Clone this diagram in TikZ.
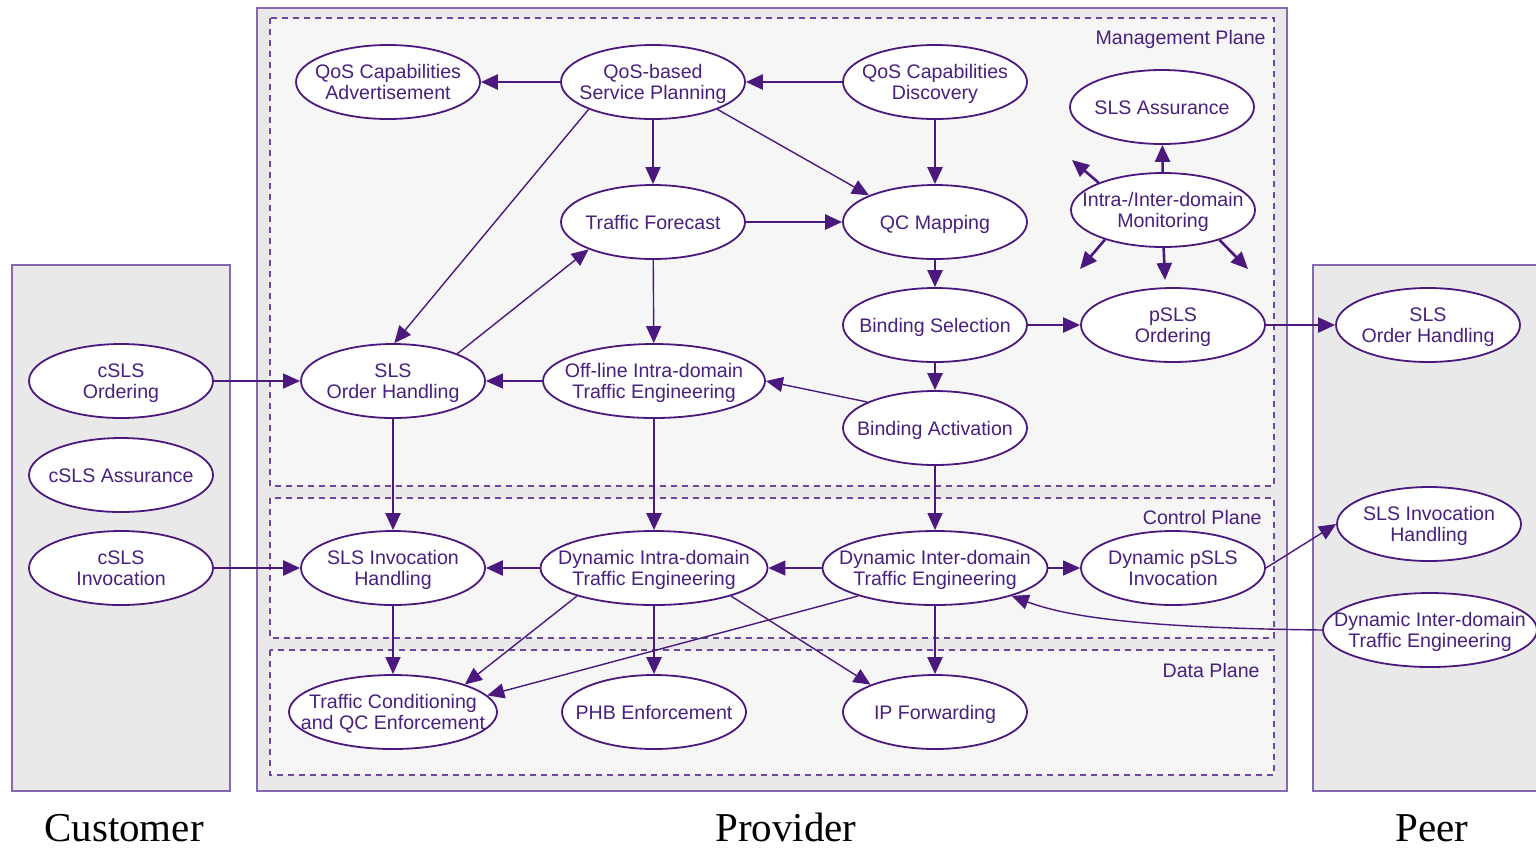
\documentclass[tikz,border=0pt]{standalone}
\usepackage{fontspec}
\setmainfont{Liberation Sans}
\newfontfamily\labelserif{Liberation Serif}
\usetikzlibrary{shapes.geometric,arrows.meta}
\definecolor{lc}{RGB}{75,25,125}
\definecolor{tc}{RGB}{72,32,125}
\definecolor{boxb}{RGB}{135,105,175}
\definecolor{dashc}{RGB}{110,70,160}
\definecolor{outerfill}{RGB}{233,233,233}
\definecolor{planefill}{RGB}{246,246,246}
\newcommand{\ztext}[1]{\makebox[0pt][c]{\raisebox{-4pt}[0pt][0pt]{\begin{tabular}{@{}c@{}}#1\end{tabular}}}}
\tikzset{
  proc/.style={ellipse, draw=lc, line width=0.9pt, fill=white, minimum width=92pt,
    minimum height=37pt, inner sep=0pt, text=tc,
    font=\fontsize{9.8}{10.3}\selectfont},
  thk/.style={draw=lc, line width=1.3pt, -{Triangle[length=8.5pt,width=7.5pt]}},
  thn/.style={draw=lc, line width=0.7pt, -{Triangle[length=8.5pt,width=7.5pt]}},
  outerbox/.style={draw=boxb, line width=1pt, fill=outerfill},
  plane/.style={draw=dashc, line width=0.8pt, dash pattern=on 3pt off 2.5pt, fill=planefill},
  planelabel/.style={anchor=east, text=tc, font=\fontsize{9.8}{10.3}\selectfont, inner sep=0pt},
  bottomlabel/.style={anchor=base, font=\labelserif\fontsize{20.5}{22}\selectfont, inner sep=0pt}
}
\begin{document}
\begin{tikzpicture}[x=0.5pt,y=-0.5pt]
\useasboundingbox (0,0) rectangle (1536,848);
\begin{scope}
\clip (0,0) rectangle (1536,848);
% outer boxes
\draw[outerbox] (257,8) rectangle (1287,791);
\draw[outerbox] (12,265) rectangle (230,791);
\draw[outerbox] (1313,265) rectangle (1545,791);
% planes
\draw[plane] (270,18) rectangle (1274,486);
\draw[plane] (270,498) rectangle (1274,638);
\draw[plane] (270,650) rectangle (1274,775);
\end{scope}
\node[planelabel] (mpl) at (1266,39) {Management Plane};
\node[planelabel] (cpl) at (1262,517) {Control Plane};
\node[planelabel] (dpl) at (1260,670) {Data Plane};

% management plane nodes
\node[proc] (qca) at (388,82) {\ztext{QoS Capabilities\\Advertisement}};
\node[proc] (qsp) at (653,82) {\ztext{QoS-based\\Service Planning}};
\node[proc] (qcd) at (935,82) {\ztext{QoS Capabilities\\Discovery}};
\node[proc] (sla) at (1162,107) {\ztext{SLS Assurance}};
\node[proc] (mon) at (1163,210) {\ztext{Intra-/Inter-domain\\Monitoring}};
\node[proc] (tf) at (653,222) {\ztext{Traffic Forecast}};
\node[proc] (qcm) at (935,222) {\ztext{QC Mapping}};
\node[proc] (bs) at (935,325) {\ztext{Binding Selection}};
\node[proc] (pso) at (1173,325) {\ztext{pSLS\\Ordering}};
\node[proc] (soh) at (393,381) {\ztext{SLS\\Order Handling}};
\node[proc, minimum width=111pt] (ote) at (654,381) {\ztext{Off-line Intra-domain\\Traffic Engineering}};
\node[proc] (ba) at (935,428) {\ztext{Binding Activation}};

% customer
\node[proc] (cso) at (121,381) {\ztext{cSLS\\Ordering}};
\node[proc] (csa) at (121,475) {\ztext{cSLS Assurance}};
\node[proc] (csi) at (121,568) {\ztext{cSLS\\Invocation}};

% control plane
\node[proc] (sih) at (393,568) {\ztext{SLS Invocation\\Handling}};
\node[proc, minimum width=113.5pt] (dite) at (654,568) {\ztext{Dynamic Intra-domain\\Traffic Engineering}};
\node[proc, minimum width=112.5pt] (dete) at (935,568) {\ztext{Dynamic Inter-domain\\Traffic Engineering}};
\node[proc] (dpi) at (1173,568) {\ztext{Dynamic pSLS\\Invocation}};

% data plane
\node[proc, minimum width=104pt] (tc) at (393,712) {\ztext{Traffic Conditioning\\and QC Enforcement}};
\node[proc] (phb) at (654,712) {\ztext{PHB Enforcement}};
\node[proc] (ipf) at (935,712) {\ztext{IP Forwarding}};

% peer
\node[proc] (psoh) at (1428,325) {\ztext{SLS\\Order Handling}};
\node[proc] (psih) at (1429,524) {\ztext{SLS Invocation\\Handling}};
\node[proc, minimum width=107pt] (pdete) at (1430,630) {\ztext{Dynamic Inter-domain\\Traffic Engineering}};

% monitoring free ends
\coordinate (m1) at (1072,160);
\coordinate (m2) at (1080,269);
\coordinate (m3) at (1165,280);
\coordinate (m4) at (1248,269);

% connectors - management plane
\draw[thk] (qsp) -- (qca);
\draw[thk] (qcd) -- (qsp);
\draw[thn] (qsp) -- (tf);
\draw[thn] (qsp.337) -- (qcm.158);
\draw[thn] (qsp.203) -- (soh.88);
\draw[thk] (qcd) -- (qcm);
\draw[thk] (tf) -- (qcm);
\draw[thn] (soh.23) -- (tf.203);
\draw[thn] (tf) -- (ote);
\draw[thk] (qcm) -- (bs);
\draw[thk] (bs) -- (pso);
\draw[thk] (pso) -- (psoh);
\draw[thk] (bs) -- (ba);
\draw[thn] (ba.159) -- (ote.east);
\draw[thn] (ote) -- (soh);
\draw[thn] (cso) -- (soh);
\draw[thk] (mon) -- (sla);
\draw[thk] (mon.157) -- (m1);
\draw[thk] (mon.207) -- (m2);
\draw[thk] (mon.-89) -- (m3);
\draw[thk] (mon.332) -- (m4);

% management to control
\draw[thk] (soh) -- (sih);
\draw[thk] (ote) -- (dite);
\draw[thn] (ba) -- (dete);

% control plane
\draw[thk] (csi) -- (sih);
\draw[thk] (dite) -- (sih);
\draw[thn] (dete) -- (dite);
\draw[thn] (dete) -- (dpi);
\draw[thn] (dpi.east) -- (psih.west);
\draw[thn] (pdete.west) .. controls (1150,628) and (1070,618) .. (dete.340);

% control to data
\draw[thn] (sih) -- (tc);
\draw[thn] (dite.200) -- (tc.21);
\draw[thn] (dete.200) -- (tc.10);
\draw[thk] (dite) -- (phb);
\draw[thn] (dite.340) -- (ipf.157);
\draw[thk] (dete) -- (ipf);

% bottom labels
\node[bottomlabel] (lcust) at (124,841) {Customer};
\node[bottomlabel] (lprov) at (786,841) {Provider};
\node[bottomlabel] (lpeer) at (1432,841) {Peer};
\end{tikzpicture}
\end{document}
